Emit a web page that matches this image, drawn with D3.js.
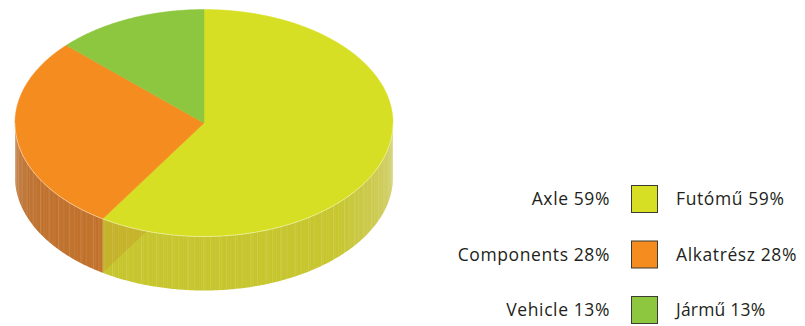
<!DOCTYPE html>
<html>
<head>
<meta charset="utf-8">
<script src="https://cdn.jsdelivr.net/npm/d3@7"></script>
<style>
  html, body { margin: 0; padding: 0; background: #fff; }
  svg { display: block; }
  text { font-family: "Open Sans", "Noto Sans", sans-serif; fill: #231f20; }
</style>
</head>
<body>
<svg id="chart" width="805" height="326"></svg>
<script>
// Shares by product line
const categories   = ["Axle", "Components", "Vehicle"];
const labelsHu     = ["Futómű", "Alkatrész", "Jármű"];
const values       = [59, 28, 13];
const topColors    = ["#d6df23", "#f58c20", "#8dc63f"];
const sideColors   = ["#c6c52b", "#c47128", "#77a833"];

const svg = d3.select("#chart");

// Elliptical projection of the disc
const cx = 204, cy = 123, rx = 189, ry = 113.5, depth = 54;
const px = a => cx + rx * Math.sin(a);
const py = a => cy - ry * Math.cos(a);

const pie = d3.pie().sort(null).value(d => d)
  .startAngle(0).endAngle(2 * Math.PI);
const arcs = pie(values);

// Sampled elliptical arc between two angles (clockwise from 12 o'clock)
function arcPoints(a0, a1, dy) {
  const n = Math.max(2, Math.ceil(Math.abs(a1 - a0) / 0.01));
  return d3.range(n + 1).map(i => {
    const a = a0 + (a1 - a0) * i / n;
    return [px(a), py(a) + dy];
  });
}
const line = d3.line();

const defs = svg.append("defs");
// Side-wall shading: slight lightening toward the right edge
arcs.forEach((d, i) => {
  const g = defs.append("linearGradient")
    .attr("id", "side" + i)
    .attr("gradientUnits", "userSpaceOnUse")
    .attr("x1", cx - rx).attr("x2", cx + rx).attr("y1", 0).attr("y2", 0);
  const c = d3.color(sideColors[i]);
  g.append("stop").attr("offset", 0).attr("stop-color", c.darker(0.15));
  g.append("stop").attr("offset", 0.3).attr("stop-color", c);
  g.append("stop").attr("offset", 0.85).attr("stop-color", c);
  g.append("stop").attr("offset", 1).attr("stop-color", d3.interpolateRgb(c, "#d4d08a")(0.45));
});

const sides = svg.append("g");
// Only the front half (angles π/2 .. 3π/2) of the wall is visible
arcs.forEach((d, i) => {
  const a0 = Math.max(d.startAngle, Math.PI / 2);
  const a1 = Math.min(d.endAngle, 3 * Math.PI / 2);
  if (a1 <= a0) return;
  const topEdge = arcPoints(a0, a1, 0);
  const botEdge = arcPoints(a1, a0, depth);
  sides.append("path")
    .attr("d", line(topEdge.concat(botEdge)) + "Z")
    .attr("fill", `url(#side${i})`);
  // fine vertical streaks on the wall
  const step = 0.012;
  let k = 0;
  for (let a = a0 + step; a < a1; a += step, k++) {
    const op = [0.10, 0.22, 0.05, 0.16, 0.30, 0.08, 0.12][k % 7];
    sides.append("line")
      .attr("x1", px(a)).attr("x2", px(a))
      .attr("y1", py(a)).attr("y2", py(a) + depth)
      .attr("stroke", "#fff")
      .attr("stroke-opacity", op)
      .attr("stroke-width", 0.6);
  }
});

// Cut face of the second slice, faintly showing through the front wall
{
  const a = arcs[1].startAngle;
  const quad = [[cx, cy], [px(a), py(a)], [px(a), py(a) + depth], [cx, cy + depth]];
  sides.append("path")
    .attr("d", line(quad) + "Z")
    .attr("fill", "#c4781f")
    .attr("fill-opacity", 0.22);
}

// Top faces
const tops = svg.append("g");
arcs.forEach((d, i) => {
  const pts = [[cx, cy]].concat(arcPoints(d.startAngle, d.endAngle, 0));
  tops.append("path")
    .attr("d", line(pts) + "Z")
    .attr("fill", topColors[i])
    .attr("stroke", topColors[i])
    .attr("stroke-width", 0.5);
});
// Light rim along the front edge
tops.append("path")
  .attr("d", line(arcPoints(Math.PI / 2, 3 * Math.PI / 2, 0)))
  .attr("fill", "none")
  .attr("stroke", "#fff")
  .attr("stroke-opacity", 0.55)
  .attr("stroke-width", 0.8);

// Legend
const legendY = d3.scalePoint().domain(categories).range([198.5, 309.5]);
const legend = svg.append("g");
categories.forEach((c, i) => {
  const y = legendY(c);
  legend.append("rect")
    .attr("x", 631.5).attr("y", y - 13)
    .attr("width", 26).attr("height", 27)
    .attr("fill", topColors[i])
    .attr("stroke", "#3b3b30")
    .attr("stroke-width", 1);
  legend.append("text")
    .attr("x", 610).attr("y", y + 6.5)
    .attr("text-anchor", "end")
    .attr("font-size", 17.5)
    .attr("letter-spacing", 0.6)
    .text(`${c} ${values[i]}%`);
  legend.append("text")
    .attr("x", 676).attr("y", y + 6.5)
    .attr("font-size", 17.5)
    .attr("letter-spacing", i === 2 ? 0.2 : 0.6)
    .text(`${labelsHu[i]} ${values[i]}%`);
});
</script>
</body>
</html>
